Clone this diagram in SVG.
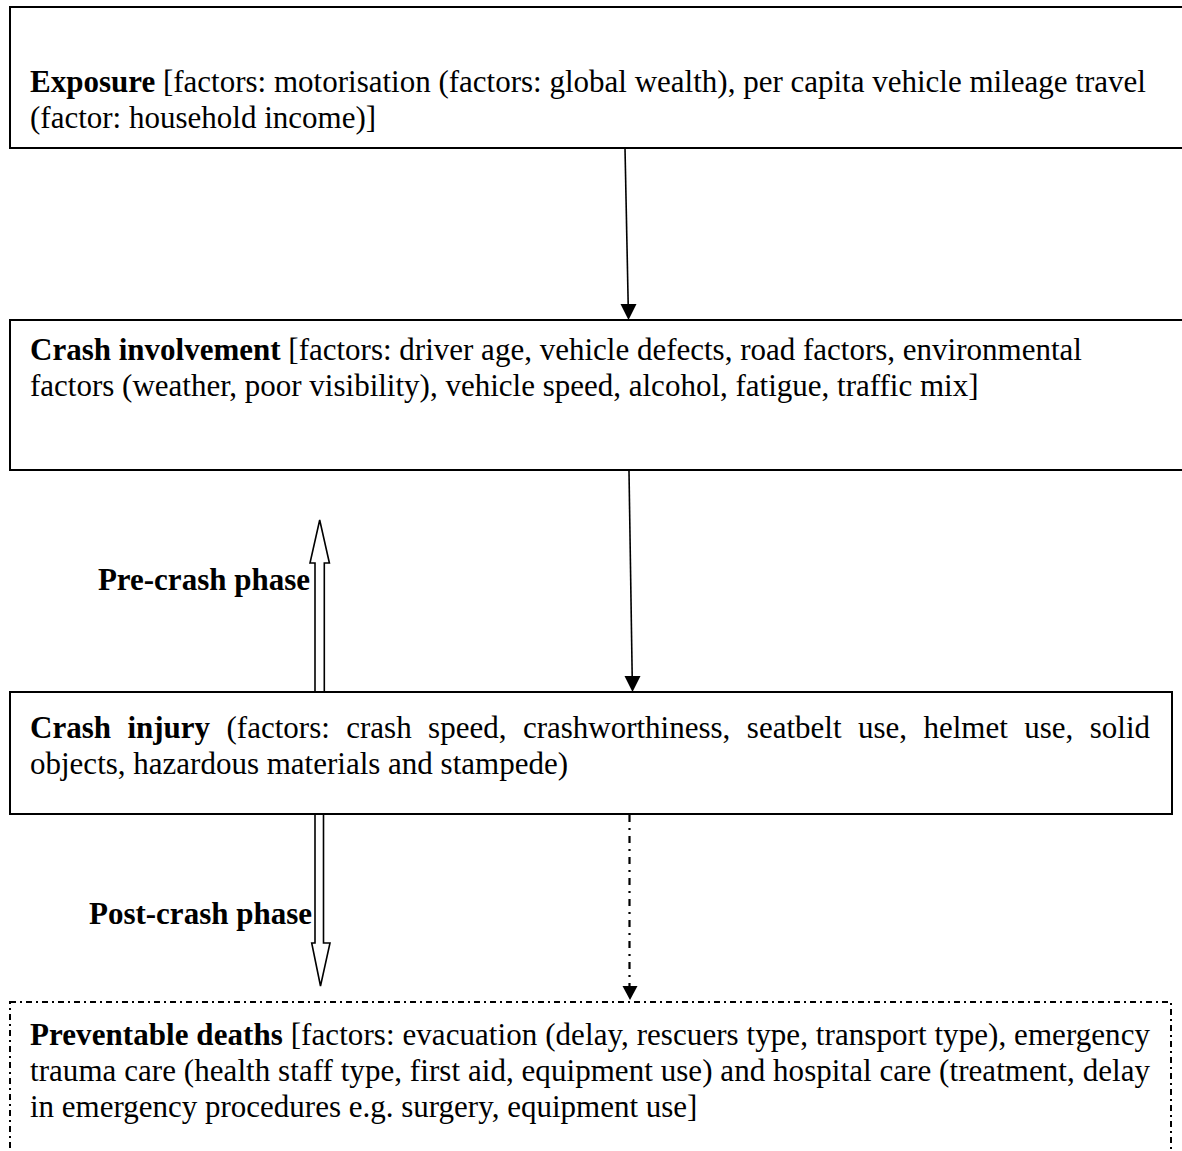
<svg xmlns="http://www.w3.org/2000/svg" width="1182" height="1151" viewBox="0 0 1182 1151">
<style>
text{font-family:"Liberation Serif","Times New Roman",serif;font-size:31px;fill:#000}
.b{font-weight:bold}
.box{fill:#fff;stroke:#000;stroke-width:2}
.dbox{fill:none;stroke:#000;stroke-width:2;stroke-dasharray:6 4 2 4}
.ln{stroke:#000;stroke-width:1.6;fill:none}
.dl{stroke:#000;stroke-width:2.2;fill:none;stroke-dasharray:7 6 2 6}
.hol{fill:#fff;stroke:#000;stroke-width:1.6;stroke-linejoin:miter}
.lbl{font-weight:bold;text-anchor:end}
</style>
<g id="connectors">
<line class="ln" x1="625" y1="148" x2="628.2" y2="305"/>
<polygon points="620.5,304 636.5,304 628.5,320" fill="#000"/>
<line class="ln" x1="629" y1="471" x2="632.2" y2="677"/>
<polygon points="624.5,676 640.5,676 632.5,692" fill="#000"/>
<line class="dl" x1="629.5" y1="815" x2="629.5" y2="986"/>
<polygon points="622.5,986 637.5,986 630,1000" fill="#000"/>
<polygon class="hol" points="315,692 315,563 310,563 319.7,520 329.4,563 324.3,563 324.3,692"/>
<polygon class="hol" points="315,814 315,943 311.7,943 320.5,986 330,943 323.5,943 323.5,814"/>
<text class="lbl" x="310" y="590">Pre-crash phase</text>
<text class="lbl" x="312" y="924">Post-crash phase</text>
</g>
<g id="exposure">
<rect class="box" x="10" y="7" width="1185" height="141"/>
<text x="30" y="92"><tspan class="b">Exposure</tspan> [factors: motorisation (factors: global wealth), per capita vehicle mileage travel</text>
<text x="30" y="128">(factor: household income)]</text>
</g>
<g id="crash-involvement">
<rect class="box" x="10" y="320" width="1185" height="150"/>
<text x="30" y="360"><tspan class="b">Crash involvement</tspan> [factors: driver age, vehicle defects, road factors, environmental</text>
<text x="30" y="396">factors (weather, poor visibility), vehicle speed, alcohol, fatigue, traffic mix]</text>
</g>
<g id="crash-injury">
<rect class="box" x="10" y="692" width="1162" height="122"/>
<text x="30" y="738" word-spacing="8.7"><tspan class="b">Crash injury</tspan> (factors: crash speed, crashworthiness, seatbelt use, helmet use, solid</text>
<text x="30" y="774">objects, hazardous materials and stampede)</text>
</g>
<g id="preventable-deaths">
<rect class="dbox" x="10" y="1002" width="1161" height="200"/>
<text x="30" y="1045" textLength="1120" lengthAdjust="spacing"><tspan class="b">Preventable deaths</tspan> [factors: evacuation (delay, rescuers type, transport type), emergency</text>
<text x="30" y="1081" textLength="1120" lengthAdjust="spacing">trauma care (health staff type, first aid, equipment use) and hospital care (treatment, delay</text>
<text x="30" y="1117">in emergency procedures e.g. surgery, equipment use]</text>
</g>
</svg>
